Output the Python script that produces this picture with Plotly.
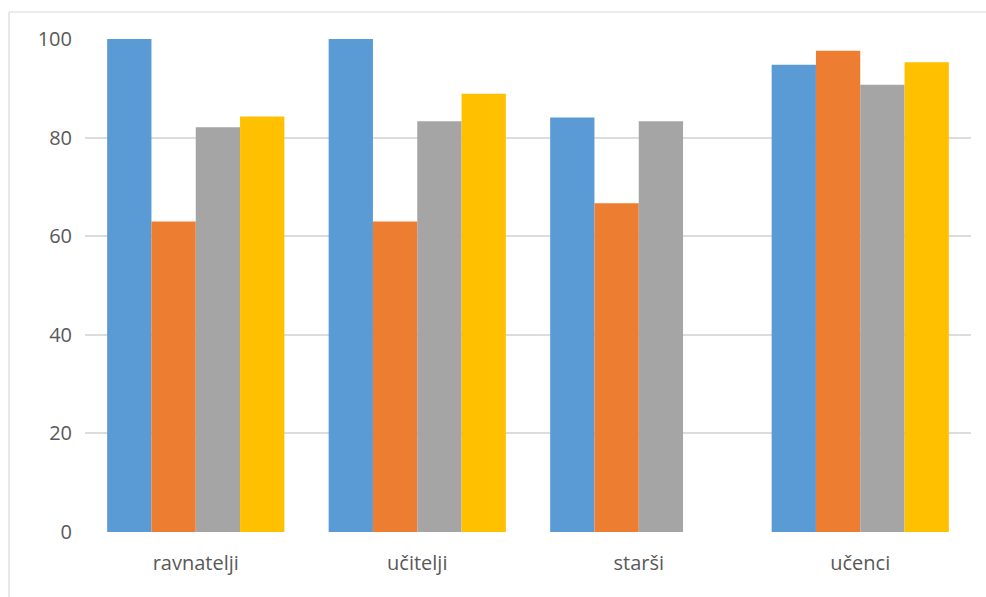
import plotly.graph_objects as go

categories = ["ravnatelji", "učitelji", "starši", "učenci"]
series_a = [100, 100, 84.1, 94.8]
series_b = [63.0, 63.0, 66.7, 97.6]
series_c = [82.1, 83.3, 83.3, 90.7]
series_d = [84.3, 88.9, None, 95.3]
series_colors = ["#5b9bd5", "#ed7d31", "#a5a5a5", "#ffc000"]
tick_values = [0, 20, 40, 60, 80, 100]

W, H = 986, 597
ML, MR, MT, MB = 85, 15, 39, 65
pw, ph = W - ML - MR, H - MT - MB

fig = go.Figure()
for vals, col in zip([series_a, series_b, series_c, series_d], series_colors):
    fig.add_trace(go.Bar(
        x=categories, y=vals, marker=dict(color=col, line=dict(width=0)),
        showlegend=False, hoverinfo="x+y",
    ))

# outer chart-area frame (left and top edges visible)
fx0 = (9 - ML) / pw
fy1 = (H - MB - 12) / ph
fy0 = -(MB + 5) / ph
fx1 = 1 + (MR + 5) / pw
fig.add_shape(type="line", xref="paper", yref="paper", x0=fx0, x1=fx0, y0=fy0, y1=fy1,
              line=dict(color="#d9d9d9", width=1.2))
fig.add_shape(type="line", xref="paper", yref="paper", x0=fx0, x1=fx1, y0=fy1, y1=fy1,
              line=dict(color="#d9d9d9", width=1.2))

fig.update_layout(
    width=W, height=H,
    margin=dict(l=ML, r=MR, t=MT, b=MB),
    paper_bgcolor="white", plot_bgcolor="white",
    barmode="group", bargap=0.2, bargroupgap=0,
    font=dict(family="Open Sans, Segoe UI, sans-serif", size=20, color="#595959"),
    xaxis=dict(showgrid=False, showline=False, ticks="", zeroline=False,
               tickfont=dict(size=20, color="#595959"), ticklabelstandoff=17),
    yaxis=dict(range=[0, 100], tickvals=tick_values, showgrid=True,
               gridcolor="#dcdcdc", gridwidth=1.8, zeroline=False, showline=False,
               ticks="", tickfont=dict(size=20, color="#595959"), ticklabelstandoff=12),
)

fig.write_html("out.html")
